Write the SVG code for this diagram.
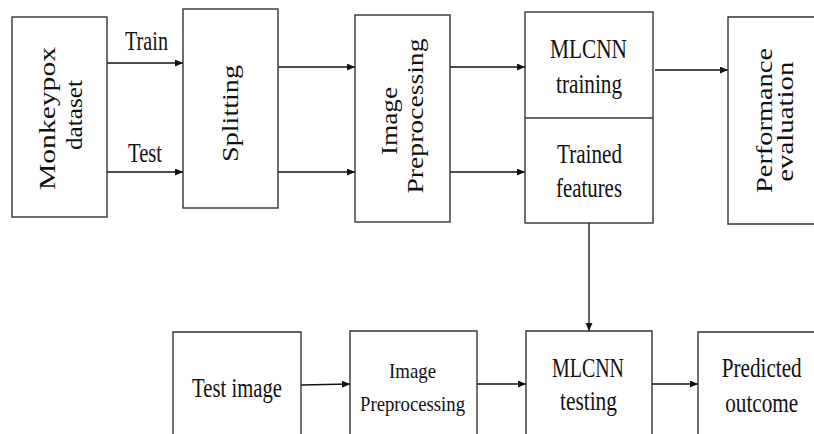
<svg xmlns="http://www.w3.org/2000/svg" width="814" height="434" viewBox="0 0 814 434">
<defs>
<style>
.box{fill:#fff;stroke:#333;stroke-width:1.4}
.ln{fill:none;stroke:#111;stroke-width:1.3;marker-end:url(#ah)}
text{font-family:"Liberation Serif","DejaVu Serif","Times New Roman",serif;fill:#111;text-anchor:middle}
.l{font-size:27px}
.t{font-size:20px}
.s{font-size:21px}
.r{font-size:24px}
</style>
<marker id="ah" markerWidth="9" markerHeight="8" refX="8" refY="3.5" orient="auto" markerUnits="userSpaceOnUse">
<path d="M0,0 L8,3.5 L0,7 z" fill="#111"/>
</marker>
</defs>
<rect width="814" height="434" fill="#fff"/>
<g id="connectors">
<line class="ln" x1="107" y1="63" x2="183" y2="63"/>
<line class="ln" x1="107" y1="172" x2="183" y2="172"/>
<line class="ln" x1="278" y1="67" x2="355" y2="67"/>
<line class="ln" x1="278" y1="172" x2="355" y2="172"/>
<line class="ln" x1="450" y1="67" x2="525" y2="67"/>
<line class="ln" x1="450" y1="172" x2="525" y2="172"/>
<line class="ln" x1="655" y1="70" x2="728" y2="70"/>
<line class="ln" x1="589" y1="223" x2="589" y2="331"/>
<line class="ln" x1="301" y1="385" x2="350" y2="384"/>
<line class="ln" x1="477" y1="384" x2="526" y2="384"/>
<line class="ln" x1="652" y1="384" x2="698" y2="384"/>
<text class="l" x="146.5" y="50" textLength="43" lengthAdjust="spacingAndGlyphs">Train</text>
<text class="l" x="145" y="162" textLength="34" lengthAdjust="spacingAndGlyphs">Test</text>
</g>
<g id="monkeypox">
<rect class="box" x="12" y="17" width="95" height="200"/>
<text class="r" transform="translate(55,118.5) rotate(-90)" textLength="143" lengthAdjust="spacingAndGlyphs">Monkeypox</text>
<text class="r" transform="translate(82,115) rotate(-90)" textLength="70" lengthAdjust="spacingAndGlyphs">dataset</text>
</g>
<g id="splitting">
<rect class="box" x="183" y="9" width="95" height="199"/>
<text class="r" transform="translate(238,113.5) rotate(-90)" textLength="97" lengthAdjust="spacingAndGlyphs">Splitting</text>
</g>
<g id="preproc1">
<rect class="box" x="355" y="15" width="95" height="207"/>
<text class="r" transform="translate(396.5,121) rotate(-90)" textLength="68" lengthAdjust="spacingAndGlyphs">Image</text>
<text class="r" transform="translate(423,116) rotate(-90)" textLength="155" lengthAdjust="spacingAndGlyphs">Preprocessing</text>
</g>
<g id="mlcnn-train">
<rect class="box" x="525" y="12" width="128" height="211"/>
<line x1="525" y1="118" x2="653" y2="118" stroke="#333" stroke-width="1.4"/>
<text class="l" x="588.5" y="58" textLength="77" lengthAdjust="spacingAndGlyphs">MLCNN</text>
<text class="l" x="589" y="93" textLength="66" lengthAdjust="spacingAndGlyphs">training</text>
<text class="l" x="589.5" y="163" textLength="65" lengthAdjust="spacingAndGlyphs">Trained</text>
<text class="l" x="589" y="196.5" textLength="66" lengthAdjust="spacingAndGlyphs">features</text>
</g>
<g id="performance">
<path class="box" d="M814,17 H728 V224 H814"/>
<text class="r" transform="translate(771.5,120.5) rotate(-90)" textLength="145" lengthAdjust="spacingAndGlyphs">Performance</text>
<text class="r" transform="translate(793,121.7) rotate(-90)" textLength="120" lengthAdjust="spacingAndGlyphs">evaluation</text>
</g>
<g id="test-image">
<path class="box" d="M173,434 V332 H301 V434"/>
<text class="l" x="237" y="397" textLength="90" lengthAdjust="spacingAndGlyphs">Test image</text>
</g>
<g id="preproc2">
<path class="box" d="M350,434 V331 H477 V434"/>
<text class="s" x="412.5" y="377.5" textLength="47" lengthAdjust="spacingAndGlyphs">Image</text>
<text class="s" x="412.5" y="411" textLength="105" lengthAdjust="spacingAndGlyphs">Preprocessing</text>
</g>
<g id="mlcnn-test">
<path class="box" d="M526,434 V331 H652 V434"/>
<text class="l" x="588" y="376.7" textLength="72" lengthAdjust="spacingAndGlyphs">MLCNN</text>
<text class="l" x="588.5" y="410" textLength="57" lengthAdjust="spacingAndGlyphs">testing</text>
</g>
<g id="predicted">
<path class="box" d="M698,434 V332 H814"/>
<text class="t" transform="translate(761.7,376.7) scale(1,1.37)" textLength="80" lengthAdjust="spacingAndGlyphs">Predicted</text>
<text class="t" transform="translate(761.7,411.7) scale(1,1.37)" textLength="73" lengthAdjust="spacingAndGlyphs">outcome</text>
</g>
</svg>
